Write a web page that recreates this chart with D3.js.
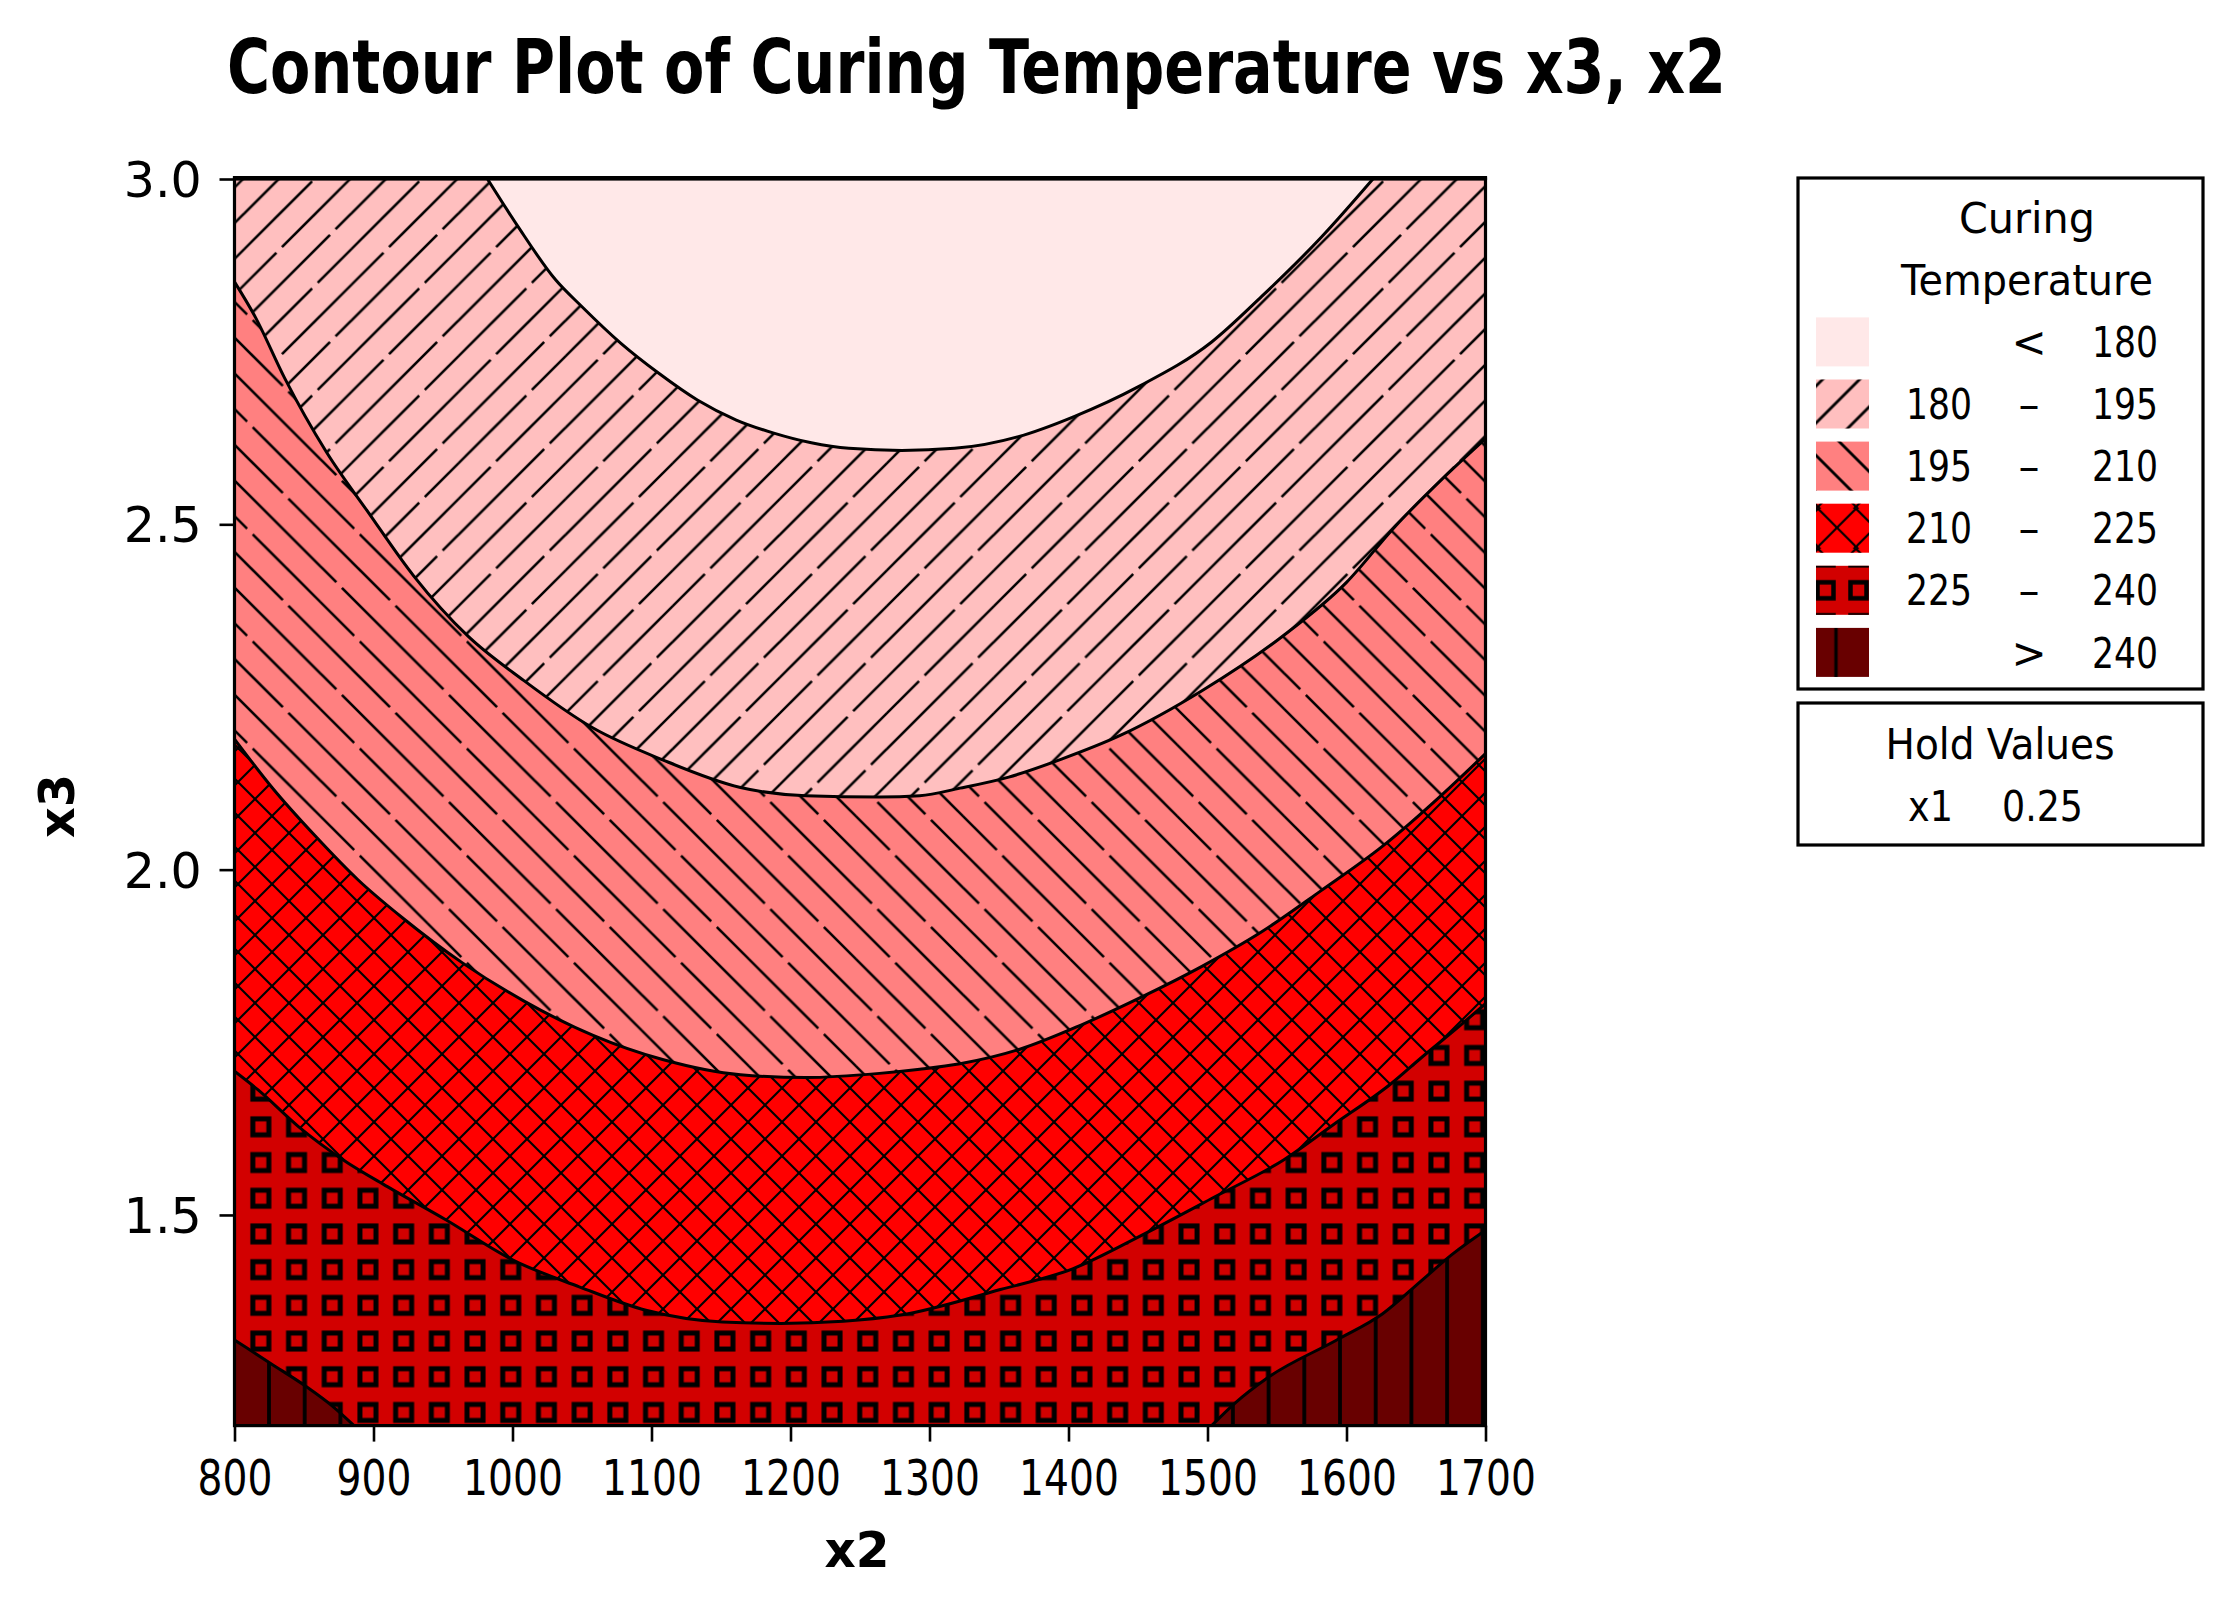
<!DOCTYPE html>
<html><head><meta charset="utf-8">
<script src="https://cdn.jsdelivr.net/npm/d3@7"></script>
<style>body{margin:0;background:#fff}svg{display:block}text{font-family:"DejaVu Sans",sans-serif}</style>
</head><body>
<svg id="c" width="2226" height="1597"></svg>
<script>
// ---------------- data ----------------
const titleText = "Contour Plot of Curing Temperature vs x3, x2";
const xLabel = "x2", yLabel = "x3";
const x2Domain = [800, 1700];
const x3Domain = [1.195, 3.0];
const x2Ticks = [800, 900, 1000, 1100, 1200, 1300, 1400, 1500, 1600, 1700];
const x3Ticks = [1.5, 2.0, 2.5, 3.0];
const levels = [180, 195, 210, 225, 240];
// contour boundaries, [x2, x3] points from left to right
const curve180 = [[982,3.0],[1004,2.931],[1031,2.854],[1050,2.815],[1078,2.762],[1105,2.719],[1133,2.680],[1161,2.651],[1188,2.632],[1215,2.618],[1242,2.610],[1280,2.607],[1318,2.610],[1364,2.627],[1404,2.656],[1450,2.699],[1503,2.764],[1539,2.830],[1582,2.916],[1619,3.0]];
const curve195 = [[800,2.851],[815,2.800],[836,2.712],[866,2.605],[896,2.518],[929,2.425],[968,2.338],[1008,2.274],[1058,2.205],[1108,2.159],[1164,2.119],[1211,2.107],[1264,2.105],[1293,2.107],[1322,2.118],[1357,2.134],[1395,2.160],[1438,2.195],[1496,2.259],[1554,2.338],[1600,2.416],[1635,2.497],[1668,2.564],[1700,2.624]];
const curve210 = [[800,2.189],[827,2.119],[858,2.049],[889,1.985],[921,1.930],[964,1.865],[1008,1.810],[1058,1.760],[1108,1.725],[1164,1.703],[1211,1.699],[1264,1.705],[1293,1.711],[1322,1.719],[1365,1.740],[1409,1.775],[1452,1.815],[1496,1.860],[1539,1.910],[1582,1.970],[1626,2.034],[1669,2.109],[1700,2.168]];
const curve225 = [[800,1.708],[817,1.681],[846,1.628],[878,1.580],[910,1.541],[952,1.493],[1000,1.435],[1048,1.396],[1096,1.362],[1151,1.345],[1193,1.343],[1238,1.346],[1279,1.355],[1351,1.392],[1403,1.422],[1455,1.473],[1505,1.526],[1555,1.580],[1590,1.630],[1632,1.690],[1654,1.728],[1681,1.773],[1700,1.806]];
const curve240a = [[800,1.319],[826,1.285],[852,1.251],[870,1.224],[886,1.195]];
const curve240b = [[1503,1.195],[1520,1.228],[1543,1.264],[1593,1.319],[1626,1.357],[1654,1.405],[1676,1.443],[1700,1.478]];
const levelCurves = [[curve180],[curve195],[curve210],[curve225],[curve240a, curve240b]];
const legendTitle = ["Curing", "Temperature"];
const legendLow  = ["", "180", "195", "210", "225", ""];
const legendSym  = ["<", "\u2013", "\u2013", "\u2013", "\u2013", ">"];
const legendHigh = ["180", "195", "210", "225", "240", "240"];
const holdTitle = "Hold Values";
const holdNames = ["x1"];
const holdVals = ["0.25"];

// ---------------- styles ----------------
const bandColors = ["#FFE8E8", "#FFBFBF", "#FF8080", "#FF0000", "#D20000", "#680000"];
const bandPatterns = [null, "fwd", "back", "cross", "squares", "vert"];

// ---------------- layout ----------------
const PL = 234.5, PR = 1485.5, PT = 179, PB = 1425.6;
const svg = d3.select("#c");
const x = d3.scaleLinear().domain(x2Domain).range([PL, PR]);
const y = d3.scaleLinear().domain(x3Domain).range([PB, PT]);
const defs = svg.append("defs");

function pattern(id, w, h, px, py) {
  return defs.append("pattern").attr("id", id).attr("patternUnits", "userSpaceOnUse")
    .attr("width", w).attr("height", h).attr("x", px).attr("y", py);
}
function diag(p, P, sw, mirror, gaps) {
  const T = 3 * P;
  const g = mirror ? p.append("g").attr("transform", `translate(${T},0) scale(-1,1)`) : p.append("g");
  for (let k = 0; k <= 6; k++) {
    const c = k * P;
    const gx = gaps ? gaps[k] : null;
    const segs = gx == null ? [[-6, T + 6]] : [[-6, gx - 2.8], [gx + 2.8, T + 6]];
    segs.forEach(([a, b]) => g.append("line").attr("x1", a).attr("y1", c - a).attr("x2", b).attr("y2", c - b)
      .attr("stroke", "#000").attr("stroke-width", sw));
  }
}
function cross(p, P, sw) {
  [0, P, 2 * P].forEach(c => p.append("line").attr("x1", -4).attr("y1", c + 4).attr("x2", P + 4).attr("y2", c - P - 4).attr("stroke", "#000").attr("stroke-width", sw));
  [-P, 0, P].forEach(d => p.append("line").attr("x1", -4).attr("y1", d - 4).attr("x2", P + 4).attr("y2", d + P + 4).attr("stroke", "#000").attr("stroke-width", sw));
}
function squares(p, P, s, sw) {
  p.append("rect").attr("x", P / 2 - s / 2).attr("y", P / 2 - s / 2).attr("width", s).attr("height", s)
    .attr("fill", "none").attr("stroke", "#000").attr("stroke-width", sw);
}
function vert(p, P, sw) {
  p.append("line").attr("x1", P / 2).attr("x2", P / 2).attr("y1", -2).attr("y2", P + 2).attr("stroke", "#000").attr("stroke-width", sw);
}
const P = 35.7;
const gapsA = [null, null, P * 1.0, P * 2.5, P * 2.0, null, null];
// plot patterns
diag(pattern("fwd", 3 * P, 3 * P, 29.3, 0), P, 2.6, false, gapsA);
diag(pattern("back", 3 * P, 3 * P, 0, 31.7), P, 2.6, true, gapsA);
cross(pattern("cross", 34, 34, 0, 0), 34, 2.1);
squares(pattern("squares", P, P, 243, 1109), P, 16, 5);
vert(pattern("vert", P, P, 269 - P / 2, 0), P, 3.8);
// legend patterns (local swatch coordinates)
const LP = 37;
diag(pattern("Lfwd", 3 * LP, 3 * LP, 43.5 - LP, 0), LP, 2.8, false, [null, null, LP * 0.4, null, LP * 2.6, null, null]);
diag(pattern("Lback", 3 * LP, 3 * LP, 0, 13.8), LP, 2.8, true, null);
cross(pattern("Lcross", 38, 40, 2, 5), 38, 2.2);
squares(pattern("Lsquares", 33, 33, -7, 8), 33, 16, 4.5);
vert(pattern("Lvert", 53, 60, 20 - 26.5, 0), 53, 3.4);

// ---------------- contour regions ----------------
defs.append("clipPath").attr("id", "plotclip").append("rect")
  .attr("x", PL).attr("y", PT).attr("width", PR - PL).attr("height", PB - PT);
const gPlot = svg.append("g").attr("clip-path", "url(#plotclip)");
gPlot.append("rect").attr("x", PL).attr("y", PT).attr("width", PR - PL).attr("height", PB - PT).attr("fill", bandColors[0]);

const lineGen = d3.line().x(d => x(d[0])).y(d => y(d[1])).curve(d3.curveMonotoneX);
const [X0, X1] = x2Domain, [Y0, Y1] = x3Domain;
function perimT(p) {
  const [a, b] = p, e = 1e-6;
  if (Math.abs(b - Y1) < e) return (a - X0) / (X1 - X0);
  if (Math.abs(a - X1) < e) return 1 + (Y1 - b) / (Y1 - Y0);
  if (Math.abs(b - Y0) < e) return 2 + (X1 - a) / (X1 - X0);
  return 3 + (b - Y0) / (Y1 - Y0);
}
const corners = [[X1, Y1], [X1, Y0], [X0, Y0], [X0, Y1]];
function regionPath(curve) {
  const tS = perimT(curve[0]), tE = perimT(curve[curve.length - 1]);
  const target = tS <= tE ? tS + 4 : tS;
  let d = lineGen(curve);
  for (let k = Math.floor(tE) + 1; k < target; k++) {
    const c = corners[(k - 1) % 4];
    d += `L${x(c[0])},${y(c[1])}`;
  }
  return d + "Z";
}
levelCurves.forEach((pieces, i) => {
  pieces.forEach(curve => {
    const d = regionPath(curve);
    gPlot.append("path").attr("d", d).attr("fill", bandColors[i + 1]);
    gPlot.append("path").attr("d", d).attr("fill", `url(#${bandPatterns[i + 1]})`);
  });
});
levelCurves.forEach(pieces => pieces.forEach(curve => {
  gPlot.append("path").attr("d", lineGen(curve)).attr("fill", "none").attr("stroke", "#000").attr("stroke-width", 3);
}));

// frame
svg.append("rect").attr("x", PL).attr("y", PT).attr("width", PR - PL).attr("height", PB - PT)
  .attr("fill", "none").attr("stroke", "#000").attr("stroke-width", 3.2);
svg.append("line").attr("x1", PL - 1.6).attr("x2", PR + 1.6).attr("y1", PT - 1).attr("y2", PT - 1)
  .attr("stroke", "#000").attr("stroke-width", 4);

// ---------------- axes ----------------
const gx = svg.append("g").attr("transform", `translate(0,${PB})`)
  .call(d3.axisBottom(x).tickValues(x2Ticks).tickSize(16).tickFormat(d3.format("d")));
gx.select(".domain").remove();
gx.selectAll(".tick line").attr("stroke", "#000").attr("stroke-width", 2.6);
gx.selectAll(".tick text").attr("fill", "#000").attr("font-size", 49).attr("font-family", "DejaVu Sans")
  .attr("dy", null).attr("y", 1495 - PB).attr("text-anchor", "start")
  .each(function () {
    const L = this.getComputedTextLength(), w = L * 0.8;
    d3.select(this).attr("textLength", w).attr("lengthAdjust", "spacingAndGlyphs").attr("x", -w / 2);
  });

const gy = svg.append("g").attr("transform", `translate(${PL},0)`)
  .call(d3.axisLeft(y).tickValues(x3Ticks).tickSize(15).tickFormat(d3.format(".1f")));
gy.select(".domain").remove();
gy.selectAll(".tick line").attr("stroke", "#000").attr("stroke-width", 2.6);
gy.selectAll(".tick text").attr("fill", "#000").attr("font-size", 49).attr("font-family", "DejaVu Sans")
  .attr("dy", "0.36em").attr("text-anchor", "start")
  .each(function () {
    const L = this.getComputedTextLength(), w = L * 1.0;
    d3.select(this).attr("textLength", w).attr("lengthAdjust", "spacingAndGlyphs").attr("x", 201.7 - PL - w);
  });

function fitted(parent, str, left, baseline, width, size, weight) {
  return parent.append("text").attr("x", left).attr("y", baseline).attr("font-size", size)
    .attr("font-weight", weight || "normal").attr("fill", "#000")
    .attr("textLength", width).attr("lengthAdjust", "spacingAndGlyphs").text(str);
}
// title
fitted(svg, titleText, 227, 93, 1499, 75, "bold");
// axis labels
fitted(svg, xLabel, 857 - 32.5, 1567, 65, 50, "bold");
svg.append("g").attr("transform", "translate(74,806) rotate(-90)")
  .call(g => fitted(g, yLabel, -32, 0, 64, 50, "bold"));

// ---------------- legend ----------------
const leg = svg.append("g");
leg.append("rect").attr("x", 1798).attr("y", 178).attr("width", 405).attr("height", 511)
  .attr("fill", "#fff").attr("stroke", "#000").attr("stroke-width", 3.2);
fitted(leg, legendTitle[0], 2027 - 68, 233, 136, 42);
fitted(leg, legendTitle[1], 2027 - 126, 295, 252, 42);
const rowStep = 62.1;
bandColors.forEach((col, i) => {
  const sw = leg.append("g").attr("transform", `translate(1816,${317.4 + rowStep * i})`);
  sw.append("rect").attr("width", 53).attr("height", 49).attr("fill", col);
  if (bandPatterns[i]) {
    const pid = "L" + bandPatterns[i];
    sw.append("rect").attr("width", 53).attr("height", 49).attr("fill", `url(#${pid})`);
  }
  const base = 357 + rowStep * i;
  if (legendLow[i]) fitted(leg, legendLow[i], 1906, base, 66, 42);
  leg.append("text").attr("x", 2029).attr("y", base).attr("font-size", 42).attr("text-anchor", "middle")
    .attr("fill", "#000").text(legendSym[i]);
  fitted(leg, legendHigh[i], 2158 - 66, base, 66, 42);
});
// hold values
leg.append("rect").attr("x", 1798).attr("y", 703).attr("width", 405).attr("height", 142)
  .attr("fill", "#fff").attr("stroke", "#000").attr("stroke-width", 3.2);
fitted(leg, holdTitle, 2000 - 114.5, 759, 229, 42);
holdNames.forEach((n, i) => {
  fitted(leg, n, 1908, 821 + i * 62, 45, 42);
  fitted(leg, holdVals[i], 2002, 821 + i * 62, 81, 42);
});
</script>
</body></html>
